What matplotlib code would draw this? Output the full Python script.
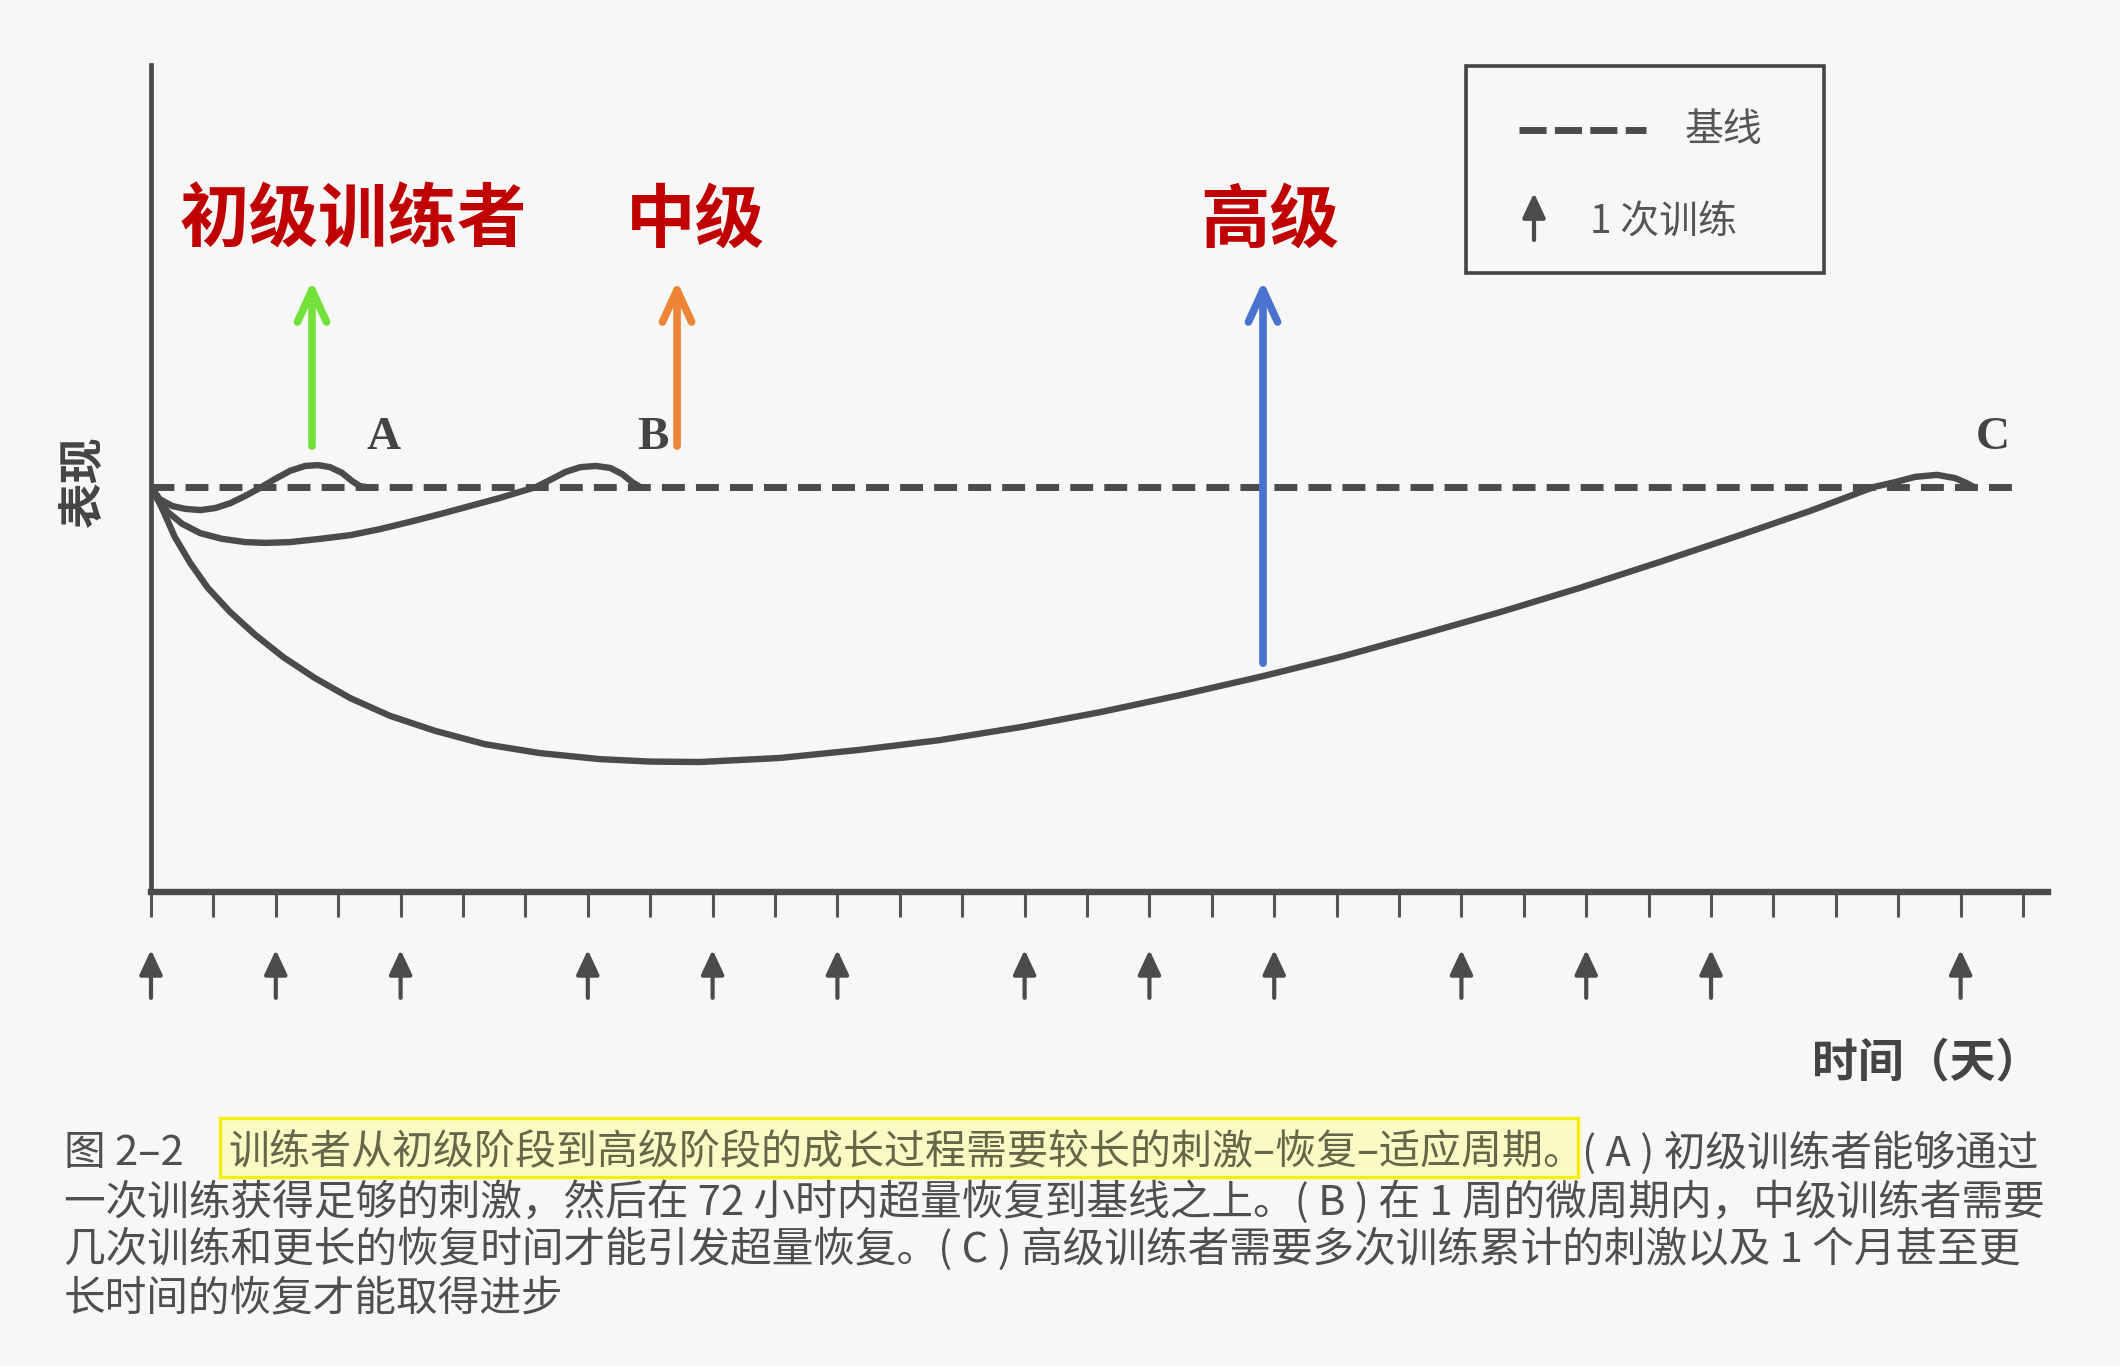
import numpy as np
import matplotlib
matplotlib.use("Agg")
import matplotlib.pyplot as plt
from matplotlib.patches import Rectangle
from matplotlib.lines import Line2D

plt.rcParams['font.family'] = ['Noto Sans CJK SC', 'DejaVu Sans']

# ---- data (x = days, y = performance, baseline = 10) ----
baseline = 10.0
baseline_end = 29.9
day_ticks = list(range(0, 31))
session_days = [0, 2, 4, 7, 9, 11, 14, 16, 18, 21, 23, 25, 29]

a_days = [0, 0.14, 0.34, 0.55, 0.79, 1.03, 1.27, 1.51, 1.75, 1.99, 2.23, 2.47, 2.68, 2.87, 3.06, 3.22, 3.35, 3.45]
a_perf = [10.0, 9.70, 9.53, 9.46, 9.43, 9.48, 9.60, 9.78, 9.98, 10.20, 10.40, 10.52, 10.54, 10.49, 10.35, 10.15, 10.02, 10.0]

b_days = [0, 0.11, 0.27, 0.50, 0.79, 1.14, 1.51, 1.84, 2.23, 2.71, 3.19, 3.67, 4.15, 4.63, 5.11, 5.59,
          5.91, 6.17, 6.39, 6.64, 6.88, 7.13, 7.36, 7.55, 7.71, 7.84]
b_perf = [10.0, 9.68, 9.38, 9.09, 8.86, 8.72, 8.64, 8.62, 8.64, 8.72, 8.81, 8.96, 9.14, 9.33, 9.53, 9.73,
          9.88, 10.0, 10.17, 10.37, 10.49, 10.52, 10.47, 10.32, 10.12, 10.0]

c_days = [0, 0.08, 0.19, 0.38, 0.63, 0.91, 1.27, 1.67, 2.12, 2.63, 3.19, 3.83, 4.55, 5.35, 6.23, 7.20,
          8.00, 8.80, 10.08, 11.36, 12.64, 13.93, 15.21, 16.49, 17.82, 19.05, 20.34, 21.62, 22.90,
          24.18, 25.46, 26.59, 27.61, 27.95, 28.27, 28.62, 28.91, 29.09, 29.21]
c_perf = [10.0, 9.78, 9.43, 8.77, 8.12, 7.51, 6.91, 6.35, 5.80, 5.28, 4.79, 4.35, 3.98, 3.65, 3.43, 3.28,
          3.22, 3.21, 3.31, 3.51, 3.75, 4.07, 4.44, 4.86, 5.33, 5.80, 6.35, 6.91, 7.51,
          8.15, 8.81, 9.41, 10.0, 10.12, 10.25, 10.30, 10.22, 10.10, 10.0]

letters = ["A", "B", "C"]
letter_days = [3.72, 8.04, 29.52]
letter_perf = 11.2

level_names = ["初级训练者", "中级", "高级"]
level_days = [3.24, 8.72, 17.93]
level_perf = 16.55
level_arrow_days = [2.58, 8.43, 17.82]
level_arrow_start = [11.01, 11.01, 5.65]
level_arrow_tip = 15.09
level_colors = ["#72e23a", "#ec8535", "#4a73cf"]

caption_lines = [
    "一次训练获得足够的刺激，然后在 72 小时内超量恢复到基线之上。( B ) 在 1 周的微周期内，中级训练者需要",
    "几次训练和更长的恢复时间才能引发超量恢复。( C ) 高级训练者需要多次训练累计的刺激以及 1 个月甚至更",
    "长时间的恢复才能取得进步",
]

W, H = 2120, 1366
bg = "#f7f7f7"
dark = "#4b4b4b"


def P(x, y):
    return x / W, 1 - y / H


fig = plt.figure(figsize=(W / 100, H / 100), dpi=100, facecolor=bg)
ax = fig.add_axes([151 / W, 1 - 892 / H, (2048 - 151) / W, (892 - 65) / H])
ax.set_facecolor(bg)
ax.set_xlim(0, 30.4)
ax.set_ylim(0, 20.42)
for s in ["top", "right"]:
    ax.spines[s].set_visible(False)
ax.spines["left"].set_linewidth(3.4)
ax.spines["bottom"].set_linewidth(4.6)
ax.spines["left"].set_color(dark)
ax.spines["bottom"].set_color(dark)
ax.set_yticks([])
ax.set_xticks(day_ticks)
ax.set_xticklabels([])
ax.tick_params(axis="x", direction="out", length=18, width=2.2, color="#555555")

# baseline + curves
ax.plot([0, baseline_end], [baseline, baseline], color=dark, lw=5, dashes=(3.3, 1.6), solid_capstyle="butt")
for xs, ys in [(a_days, a_perf), (b_days, b_perf), (c_days, c_perf)]:
    ax.plot(xs, ys, color=dark, lw=4.6, solid_capstyle="round", solid_joinstyle="round")

for t, d in zip(letters, letter_days):
    ax.text(d, letter_perf, t, family="Liberation Serif", weight="bold", fontsize=34,
            color="#444444", ha="center", va="center")

# coloured level arrows and labels
for name, d, ad, a0, col in zip(level_names, level_days, level_arrow_days, level_arrow_start, level_colors):
    ax.annotate("", xy=(ad, level_arrow_tip), xytext=(ad, a0),
                arrowprops=dict(arrowstyle="->,head_length=2.3,head_width=1.05", lw=5.5, color=col,
                                shrinkA=0, shrinkB=0, mutation_scale=10))
    ax.text(d, level_perf, name, fontsize=50, weight="bold", color="#c00000", ha="center", va="center")

# training session arrows under the axis
arrow_head = "-|>,head_length=1.5,head_width=0.7"
trans = ax.get_xaxis_transform()
for d in session_days:
    ax.annotate("", xy=(d, -0.070), xytext=(d, -0.128), xycoords=trans, textcoords=trans,
                arrowprops=dict(arrowstyle=arrow_head, lw=3.0, color=dark,
                                shrinkA=0, shrinkB=0, mutation_scale=10),
                annotation_clip=False)

# axis labels
fig.text(*P(85, 482), "表现", rotation=90, fontsize=33, weight="bold", color="#444444",
         ha="center", va="center")
fig.text(*P(1812, 1063), "时间（天）", fontsize=33, weight="bold", color="#444444", ha="left", va="center")

# legend box
x0, y0 = P(1466, 273)
x1, y1 = P(1824, 66)
fig.patches.append(Rectangle((x0, y0), x1 - x0, y1 - y0, transform=fig.transFigure,
                             fill=False, edgecolor="#444444", lw=2.6))
lx0, ly = P(1519, 130)
lx1, _ = P(1646, 130)
fig.lines.append(Line2D([lx0, lx1], [ly, ly], transform=fig.transFigure, color=dark, lw=5,
                        dashes=(3.9, 1.2)))
fig.text(*P(1685, 130), "基线", fontsize=28, color="#555555", ha="left", va="center")
ax.annotate("", xy=P(1534, 193), xytext=P(1534, 240), xycoords="figure fraction",
            textcoords="figure fraction",
            arrowprops=dict(arrowstyle=arrow_head, lw=3.0, color=dark,
                            shrinkA=0, shrinkB=0, mutation_scale=10), annotation_clip=False)
fig.text(*P(1590, 223), "1 次训练", fontsize=28, color="#555555", ha="left", va="center")

# caption
cap_color = "#4f4f4f"
hx0, hy0 = P(220, 1177)
hx1, hy1 = P(1578, 1118)
fig.patches.append(Rectangle((hx0, hy0), hx1 - hx0, hy1 - hy0, transform=fig.transFigure,
                             facecolor="#fafac4", edgecolor="#f2ee10", lw=2.4))
fig.text(*P(64, 1153), "图 2–2", fontsize=30, color=cap_color, ha="left", va="center")
fig.text(*P(228, 1153), "训练者从初级阶段到高级阶段的成长过程需要较长的刺激–恢复–适应周期。",
         fontsize=29.5, color="#66664a", ha="left", va="center")
fig.text(*P(1582, 1153), "( A ) 初级训练者能够通过", fontsize=30, color=cap_color, ha="left", va="center")
for line, yy in zip(caption_lines, [1202, 1249, 1299]):
    fig.text(*P(64, yy), line, fontsize=30, color=cap_color, ha="left", va="center")

fig.savefig("out.png", dpi=100, facecolor=bg)
